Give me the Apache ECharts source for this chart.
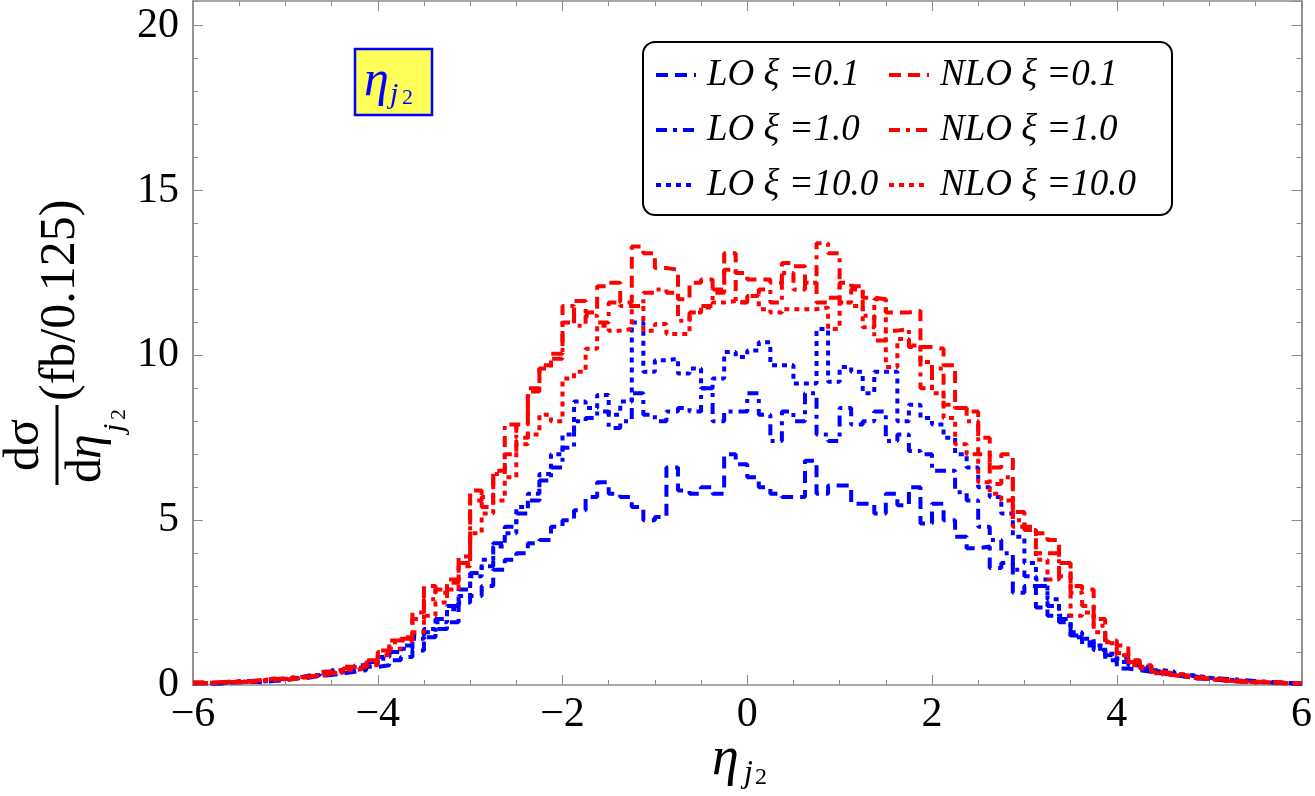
<!DOCTYPE html>
<html>
<head>
<meta charset="utf-8">
<title>eta_j2 distribution</title>
<script src="https://cdn.jsdelivr.net/npm/echarts@6/dist/echarts.min.js"></script>
<style>
  html, body { margin: 0; padding: 0; background: #fff; }
  #main { width: 1315px; height: 796px; }
</style>
</head>
<body>
<div id="main"></div>
<script>
// bins: 96 bins of width 0.125 from -6 to 6
const xMin = -6;
const xMax = 6;
const binWidth = 0.125;

const seriesNames = ["LO ξ =0.1", "LO ξ =1.0", "LO ξ =10.0", "NLO ξ =0.1", "NLO ξ =1.0", "NLO ξ =10.0"];

// one value per bin (fb / 0.125)
const loXi01 = [
  0.05, 0.04, 0.06, 0.08, 0.1, 0.08, 0.12, 0.15,
  0.2, 0.22, 0.28, 0.3, 0.35, 0.4, 0.45, 0.55,
  0.6, 0.75, 0.85, 1.05, 1.45, 1.7, 1.9, 2.5,
  2.7, 3.0, 3.5, 3.8, 4.0, 4.3, 4.4, 4.8,
  5.0, 5.3, 5.7, 6.15, 5.8, 5.7, 5.4, 5.0,
  5.1, 6.6, 5.9, 5.8, 6.0, 5.8, 7.0, 6.7,
  6.3, 6.0, 5.8, 5.7, 5.7, 6.8, 5.8, 6.05,
  6.05, 5.5, 5.5, 5.2, 5.8, 5.45, 6.0, 4.9,
  5.5, 5.0, 4.5, 4.15, 4.2, 3.55, 3.7, 2.8,
  3.0, 2.35, 2.1, 1.9, 1.45, 1.2, 1.06, 0.75,
  0.5, 0.45, 0.4, 0.35, 0.3, 0.25, 0.2, 0.18,
  0.15, 0.12, 0.1, 0.1, 0.08, 0.06, 0.05, 0.04
];
const loXi1 = [
  0.06, 0.05, 0.08, 0.1, 0.12, 0.1, 0.15, 0.2,
  0.22, 0.28, 0.3, 0.4, 0.38, 0.5, 0.6, 0.7,
  0.8, 1.0, 1.2, 1.5, 1.6, 2.0, 2.4, 2.9,
  3.4, 3.6, 4.3, 4.8, 5.2, 5.6, 6.2, 6.6,
  7.2, 8.0, 8.1, 8.3, 7.8, 8.0, 8.85, 8.2,
  8.0, 8.3, 8.4, 8.3, 9.0, 8.0, 8.3, 8.3,
  8.85, 8.2, 7.4, 8.3, 8.0, 8.85, 7.6, 7.4,
  8.4, 7.9, 8.0, 8.3, 7.4, 7.6, 7.1, 7.0,
  6.5, 6.5, 5.85, 5.6, 4.8, 4.4, 4.0, 3.5,
  3.3, 3.0, 2.4, 2.0, 1.5, 1.3, 1.1, 0.9,
  0.7, 0.6, 0.5, 0.42, 0.35, 0.3, 0.25, 0.22,
  0.2, 0.18, 0.15, 0.12, 0.1, 0.08, 0.06, 0.05
];
const loXi10 = [
  0.05, 0.06, 0.08, 0.1, 0.1, 0.12, 0.15, 0.18,
  0.22, 0.25, 0.3, 0.35, 0.45, 0.5, 0.55, 0.65,
  0.85, 1.0, 1.1, 1.4, 1.7, 1.9, 2.3, 2.7,
  3.3, 3.8, 4.2, 4.6, 5.4, 5.8, 6.4, 7.0,
  7.6, 8.6, 8.4, 8.8, 8.2, 8.6, 11.0, 9.5,
  9.85, 9.9, 9.45, 9.6, 9.0, 9.3, 10.1, 9.95,
  10.15, 10.4, 9.7, 9.7, 9.15, 9.15, 10.8, 9.2,
  9.65, 9.5, 8.85, 9.5, 9.5, 8.0, 8.5, 8.1,
  7.9, 7.5, 7.0, 6.6, 6.0, 5.7, 5.2, 4.5,
  3.7, 3.2, 2.6, 2.1, 1.6, 1.4, 1.2, 0.95,
  0.8, 0.7, 0.55, 0.45, 0.4, 0.32, 0.28, 0.22,
  0.18, 0.15, 0.12, 0.1, 0.08, 0.07, 0.05, 0.04
];
const nloXi01 = [
  0.06, 0.08, 0.1, 0.08, 0.12, 0.15, 0.2, 0.15,
  0.2, 0.25, 0.3, 0.35, 0.4, 0.5, 0.55, 0.7,
  1.05, 1.35, 1.45, 2.2, 3.0, 2.8, 3.2, 3.9,
  5.9, 5.4, 6.5, 7.0, 7.9, 9.0, 9.7, 10.05,
  11.0, 11.65, 11.3, 12.1, 12.2, 11.6, 13.3, 13.1,
  12.65, 12.6, 11.7, 12.2, 12.3, 11.9, 13.1, 12.5,
  12.3, 12.3, 12.2, 12.8, 12.7, 12.2, 11.6, 11.75,
  12.2, 12.1, 11.75, 11.7, 11.3, 11.3, 11.35, 10.25,
  10.2, 9.7, 8.4, 8.3, 7.5, 6.6, 7.0, 5.25,
  4.8, 4.6, 4.4, 3.7, 3.0, 2.9, 2.0, 1.35,
  1.2, 0.75, 0.6, 0.4, 0.35, 0.3, 0.25, 0.2,
  0.18, 0.15, 0.12, 0.1, 0.1, 0.08, 0.06, 0.05
];
const nloXi1 = [
  0.08, 0.06, 0.1, 0.12, 0.1, 0.15, 0.18, 0.2,
  0.25, 0.22, 0.3, 0.4, 0.45, 0.55, 0.6, 0.75,
  1.0, 1.3, 1.4, 2.0, 2.6, 2.9, 3.1, 3.7,
  5.6, 5.7, 6.4, 7.9, 7.5, 8.9, 9.6, 9.9,
  11.5, 10.9, 11.2, 11.0, 11.6, 11.5, 11.5, 11.9,
  12.0, 11.9, 11.05, 11.3, 11.5, 12.0, 12.6, 11.6,
  11.8, 12.0, 11.6, 12.5, 12.0, 12.2, 13.4, 13.1,
  11.6, 12.0, 11.2, 10.45, 10.75, 10.8, 10.25, 9.0,
  9.6, 8.5, 8.4, 8.0, 7.0, 6.1, 6.3, 5.0,
  4.7, 4.0, 4.0, 3.3, 2.8, 2.4, 1.8, 1.27,
  0.97, 0.7, 0.55, 0.4, 0.3, 0.25, 0.22, 0.18,
  0.15, 0.12, 0.1, 0.08, 0.08, 0.06, 0.05, 0.04
];
const nloXi10 = [
  0.05, 0.06, 0.08, 0.1, 0.1, 0.12, 0.15, 0.18,
  0.2, 0.25, 0.28, 0.3, 0.38, 0.45, 0.5, 0.6,
  0.9, 1.1, 1.35, 1.6, 2.1, 2.5, 2.9, 3.6,
  4.6, 5.2, 5.6, 6.3, 7.3, 7.6, 8.2, 8.0,
  9.3, 9.5, 10.2, 10.9, 10.75, 10.8, 11.5, 10.75,
  10.95, 10.65, 10.65, 11.3, 11.45, 11.6, 11.65, 11.6,
  11.8, 11.4, 11.3, 11.4, 11.4, 11.4, 11.45, 10.8,
  11.6, 11.5, 10.85, 11.7, 9.65, 10.5, 10.3, 9.8,
  8.85, 8.1, 7.3, 7.0, 6.15, 5.8, 5.6, 4.8,
  4.7, 3.8, 3.2, 3.7, 2.1, 2.2, 1.6, 1.3,
  0.9, 0.6, 0.5, 0.36, 0.3, 0.25, 0.2, 0.18,
  0.15, 0.12, 0.1, 0.08, 0.08, 0.05, 0.05, 0.04
];

const allValues = [loXi01, loXi1, loXi10, nloXi01, nloXi1, nloXi10];

// 线型: dashed / dot-dashed / dotted, blue for LO, red for NLO
const lineStyles = [
  { color: "#0000ff", type: [12, 7] },
  { color: "#0000ff", type: [11, 6, 4, 6] },
  { color: "#0000ff", type: [5, 5] },
  { color: "#ff0000", type: [12, 7] },
  { color: "#ff0000", type: [11, 6, 4, 6] },
  { color: "#ff0000", type: [5, 5] },
];

// histogram -> step points at the left edge of every bin, plus the right end
function toSteps(values) {
  const pts = values.map((v, i) => [xMin + i * binWidth, v]);
  pts.push([xMax, values[values.length - 1]]);
  return pts;
}

const serif = "'Liberation Serif', 'DejaVu Serif', serif";
const frameColor = "#8c8c8c";

function fmtTick(v) {
  if (v % 1 !== 0) return "";
  return v < 0 ? "\u2212" + Math.abs(v) : String(v);
}

function xAxisOf(pos, showLabel) {
  return {
    type: "value",
    position: pos,
    min: xMin,
    max: xMax,
    interval: 2,
    axisLine: { show: true, onZero: false, lineStyle: { color: frameColor, width: 1.5 } },
    axisTick: { show: true, inside: true, length: 10, lineStyle: { color: frameColor } },
    minorTick: { show: true, splitNumber: 4, length: 5, lineStyle: { color: frameColor } },
    splitLine: { show: false },
    axisLabel: {
      show: showLabel,
      color: "#000",
      fontFamily: serif,
      fontSize: 42,
      margin: 9,
      formatter: fmtTick,
    },
  };
}

// y: majors every 5, minors every 1 (two axes each side, so the top stays clean)
function yAxisOf(pos, step, len, showLabel) {
  return {
    type: "value",
    position: pos,
    min: 0,
    max: 20.75,
    interval: step,
    axisLine: { show: true, onZero: false, lineStyle: { color: frameColor, width: 1.5 } },
    axisTick: { show: true, inside: true, length: len, lineStyle: { color: frameColor } },
    splitLine: { show: false },
    axisLabel: {
      show: showLabel,
      showMaxLabel: false,
      color: "#000",
      fontFamily: serif,
      fontSize: 42,
      margin: 14,
      formatter: (v) => (v % 5 === 0 ? String(v) : ""),
    },
  };
}

const chart = echarts.init(document.getElementById("main"));

const legendText = {
  color: "#000",
  fontFamily: serif,
  fontStyle: "italic",
  fontSize: 37,
  lineHeight: 40,
  padding: [0, 0, 0, 6],
};

function legendOf(names, left) {
  return {
    data: names,
    orient: "vertical",
    left: left,
    top: 55,
    padding: 0,
    itemGap: 15,
    itemWidth: 40,
    itemHeight: 14,
    // keep only the dashed line in the key, no marker
    itemStyle: { opacity: 0 },
    lineStyle: { width: 4 },
    textStyle: legendText,
    z: 10,
  };
}

const option = {
  animation: false,
  backgroundColor: "#fff",
  grid: { left: 193, right: 12, top: 1, bottom: 111 },
  xAxis: [xAxisOf("bottom", true), xAxisOf("top", false)],
  yAxis: [
    yAxisOf("left", 5, 10, true),
    yAxisOf("left", 1, 5, false),
    yAxisOf("right", 5, 10, false),
    yAxisOf("right", 1, 5, false),
  ],
  legend: [legendOf(seriesNames.slice(0, 3), 654), legendOf(seriesNames.slice(3), 887)],
  series: allValues.map((vals, k) => ({
    name: seriesNames[k],
    type: "line",
    step: "end",
    symbol: "none",
    xAxisIndex: 0,
    yAxisIndex: 0,
    color: lineStyles[k].color,
    lineStyle: { color: lineStyles[k].color, type: lineStyles[k].type, width: 4 },
    data: toSteps(vals),
  })),
  graphic: [
    // legend frame
    {
      type: "rect",
      z: 5,
      shape: { x: 643, y: 42, width: 529, height: 173, r: 12 },
      style: { fill: "#fff", stroke: "#000", lineWidth: 2 },
    },
    // label box in the upper left
    {
      type: "rect",
      z: 5,
      shape: { x: 355, y: 49, width: 77, height: 66 },
      style: { fill: "#ffff5a", stroke: "#0000ff", lineWidth: 2.5 },
    },
    { type: "text", z: 6, x: 364, y: 82, style: { text: "η", fill: "#0000ff", fontFamily: serif, fontStyle: "italic", fontSize: 50, textVerticalAlign: "middle" } },
    { type: "text", z: 6, x: 390, y: 95, style: { text: "j", fill: "#0000ff", fontFamily: serif, fontStyle: "italic", fontSize: 30, textVerticalAlign: "middle" } },
    { type: "text", z: 6, x: 402, y: 98, style: { text: "2", fill: "#0000ff", fontFamily: serif, fontSize: 22, textVerticalAlign: "middle" } },
    // x axis title
    { type: "text", x: 712, y: 760, style: { text: "η", fill: "#000", fontFamily: serif, fontStyle: "italic", fontSize: 54, textVerticalAlign: "middle" } },
    { type: "text", x: 744, y: 774, style: { text: "j", fill: "#000", fontFamily: serif, fontStyle: "italic", fontSize: 32, textVerticalAlign: "middle" } },
    { type: "text", x: 755, y: 778, style: { text: "2", fill: "#000", fontFamily: serif, fontSize: 24, textVerticalAlign: "middle" } },
    // y axis title, rotated
    {
      type: "group",
      x: 57,
      y: 485,
      rotation: Math.PI / 2,
      children: [
        { type: "rect", shape: { x: 0, y: -1.5, width: 80, height: 3 }, style: { fill: "#000" } },
        { type: "text", x: 40, y: -32, style: { text: "dσ", fill: "#000", fontFamily: serif, fontSize: 50, textAlign: "center", textVerticalAlign: "middle" } },
        { type: "text", x: 2, y: 30, style: { text: "d", fill: "#000", fontFamily: serif, fontSize: 50, textVerticalAlign: "middle" } },
        { type: "text", x: 26, y: 30, style: { text: "η", fill: "#000", fontFamily: serif, fontStyle: "italic", fontSize: 50, textVerticalAlign: "middle" } },
        { type: "text", x: 53, y: 58, style: { text: "j", fill: "#000", fontFamily: serif, fontStyle: "italic", fontSize: 30, textVerticalAlign: "middle" } },
        { type: "text", x: 65, y: 62, style: { text: "2", fill: "#000", fontFamily: serif, fontSize: 22, textVerticalAlign: "middle" } },
        { type: "text", x: 84, y: 4, style: { text: "(fb/0.125)", fill: "#000", fontFamily: serif, fontSize: 50, textVerticalAlign: "middle" } },
      ],
    },
  ],
};

chart.setOption(option);

window.addEventListener("resize", function () {
  chart.resize();
});
</script>
</body>
</html>
